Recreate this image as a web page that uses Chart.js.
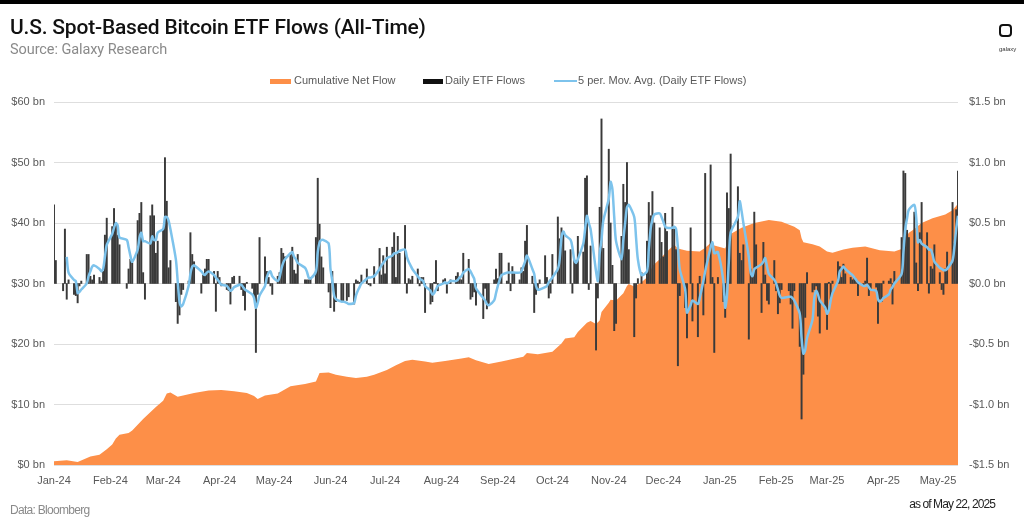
<!DOCTYPE html>
<html>
<head>
<meta charset="utf-8">
<script src="https://cdn.jsdelivr.net/npm/chart.js@4.4.1/dist/chart.umd.min.js"></script>
<style>
  html, body { margin:0; padding:0; background:#fff; overflow:hidden; }
  body { width:1024px; height:521px; position:relative; font-family:"Liberation Sans", Arial, sans-serif; }
  #topbar { position:absolute; left:0; top:0; width:1024px; height:4px; background:#000; }
  #c { position:absolute; left:0; top:0; }
  .txt { position:absolute; white-space:nowrap; line-height:1; }
  #title { left:10px; top:17px; font-family:Roboto, "Liberation Sans", sans-serif; font-weight:500; font-size:21px; color:#111; letter-spacing:-0.2px; }
  #subtitle { left:10px; top:43px; font-family:Roboto, "Liberation Sans", sans-serif; font-size:14.5px; color:#8a8a8a; letter-spacing:-0.08px; }
  .lg { top:75px; font-size:11px; color:#595959; }
  .sw { position:absolute; }
  #foot1 { left:10px; top:504px; font-size:12px; color:#8a8a8a; letter-spacing:-0.7px; }
  #foot2 { right:29px; top:498px; font-size:12px; color:#222; letter-spacing:-0.9px; }
  #logo { position:absolute; left:999px; top:24px; width:9px; height:9px; border:2.3px solid #111; border-radius:4px; }
  #logotxt { left:999px; top:46px; font-size:6px; color:#333; }
</style>
</head>
<body>
<div id="topbar"></div>
<canvas id="c" width="1024" height="521"></canvas>
<div class="txt" id="title">U.S. Spot-Based Bitcoin ETF Flows (All-Time)</div>
<div class="txt" id="subtitle">Source: Galaxy Research</div>
<div class="sw" style="left:270px;top:79px;width:21px;height:5px;background:#fd8f48;"></div>
<div class="txt lg" style="left:294px;">Cumulative Net Flow</div>
<div class="sw" style="left:423px;top:79px;width:20px;height:5px;background:#111;"></div>
<div class="txt lg" style="left:445px;">Daily ETF Flows</div>
<div class="sw" style="left:554px;top:80px;width:23px;height:2px;background:#7dc3ec;"></div>
<div class="txt lg" style="left:578px;">5 per. Mov. Avg. (Daily ETF Flows)</div>
<div id="logo"></div>
<div class="txt" id="logotxt">galaxy</div>
<div class="txt" id="foot1">Data: Bloomberg</div>
<div class="txt" id="foot2">as of May 22, 2025</div>
<script>
// ---------------- DATA ----------------
const monthLabels = ['Jan-24','Feb-24','Mar-24','Apr-24','May-24','Jun-24','Jul-24','Aug-24','Sep-24','Oct-24','Nov-24','Dec-24','Jan-25','Feb-25','Mar-25','Apr-25','May-25'];
const leftTickLabels = ['$0 bn','$10 bn','$20 bn','$30 bn','$40 bn','$50 bn','$60 bn'];
const rightTickLabels = ['-$1.5 bn','-$1.0 bn','-$0.5 bn','$0.0 bn','$0.5 bn','$1.0 bn','$1.5 bn'];

const firstDate = '2024-01-11';
const lastDate = '2025-05-22';
const marketHolidays = ['2024-01-15','2024-02-19','2024-03-29','2024-05-27','2024-06-19','2024-07-04','2024-09-02','2024-11-28','2024-12-25','2025-01-01','2025-01-09','2025-01-20','2025-02-17','2025-04-18'];

// Daily ETF flows ($ bn), one value per trading day of each month
const flowsJan24 = [0.65,0.19,-0.06,0.45,-0.13,0.03,-0.09,-0.10,-0.16,-0.02,0.02,0.24,0.24,0.06];
const flowsFeb24 = [0.03,0.07,0.05,0.02,0.10,0.40,0.54,0.47,0.62,0.49,0.40,0.32,-0.04,0.12,0.20,0.17,0.52,0.58,0.67,0.09];
const flowsMar24 = [-0.13,0.56,0.65,0.56,0.25,0.35,0.45,1.04,0.68,0.13,0.19,-0.15,-0.33,-0.26,-0.09,-0.05,0.02,0.42,0.24,0.18];
const flowsApr24 = [-0.08,0.07,0.12,0.20,0.20,0.10,-0.23,0.10,0.05,-0.02,-0.05,-0.06,-0.17,0.05,0.06,0.06,-0.05,-0.10,-0.22,0.01,-0.04,-0.12];
const flowsMay24 = [-0.57,-0.09,0.38,0.22,0.10,0.05,-0.02,-0.09,0.06,0.09,0.29,0.25,0.22,0.24,0.30,0.11,0.08,0.24,0.03,0.03,0.03,0.05];
const flowsJun24 = [0.38,0.87,0.49,0.22,0.13,-0.07,-0.20,0.10,-0.23,-0.15,-0.15,-0.15,-0.14,-0.11,-0.17,0.03,0.02,0.01,0.07];
const flowsJul24 = [0.12,-0.01,-0.02,0.14,0.29,0.07,0.23,0.08,0.30,0.30,0.42,0.05,0.39,0.25,0.48,-0.08,0.04,0.03,0.06,0.12,-0.02,0.05];
const flowsAug24 = [0.05,-0.24,-0.17,-0.15,0.01,0.19,-0.06,0.03,0.04,-0.08,0.01,0.03,0.06,0.09,0.04,0.03,0.25,0.20,-0.13,-0.11,-0.07,-0.18];
const flowsSep24 = [-0.29,-0.04,-0.21,-0.17,0.03,0.12,0.04,0.25,0.25,0.02,0.17,-0.06,0.14,0.09,0.03,0.13,0.10,0.35,0.48,0.06];
const flowsOct24 = [-0.24,-0.09,-0.05,0.03,0.23,0.05,-0.12,-0.08,0.24,0.55,0.37,0.46,0.43,0.27,0.28,-0.08,0.19,0.19,0.39,0.26,0.87,0.89,-0.05];
const flowsNov24 = [0.31,-0.55,-0.12,0.63,1.36,0.29,1.11,0.50,0.15,-0.39,-0.33,0.39,0.82,0.67,1.00,0.28,-0.44,-0.12,0.04,0.09];
const flowsDec24 = [0.35,0.67,0.56,0.76,0.50,0.46,0.34,0.22,0.58,0.43,0.63,0.45,0.28,-0.68,-0.10,-0.20,-0.45,0.46,-0.31,-0.44,0.06];
const flowsJan25 = [-0.26,0.91,0.98,0.05,-0.57,0.05,-0.15,-0.28,0.75,0.62,1.07,0.80,0.25,0.19,0.32,-0.46,0.12,0.06,0.59,0.32];
const flowsFeb25 = [-0.24,0.34,0.07,-0.14,-0.17,0.19,-0.06,-0.25,-0.16,-0.05,-0.06,-0.17,-0.37,-0.06,-0.52,-1.12,-0.75,-0.28,0.09];
const flowsMar25 = [-0.07,-0.05,-0.02,-0.27,-0.41,-0.21,-0.38,0.01,-0.13,0.02,0.18,0.14,0.05,0.16,0.08,0.05,0.03,0.05,0.03,-0.10,-0.02];
const flowsApr25 = [0.02,0.21,-0.10,-0.05,-0.03,-0.33,-0.13,-0.15,0.02,0.02,0.04,-0.17,0.10,0.38,0.93,0.91,0.44,0.38,0.59,0.17,-0.06];
const flowsMay25 = [0.42,0.67,0.42,-0.08,0.14,0.12,0.32,0.09,-0.05,-0.09,0.12,0.26,0.67,0.33,0.61,0.93];

// 5-period moving average ($ bn)
const maJan24 = [null,null,null,null,0.22,0.09,0.03,0.02,-0.08,-0.07,-0.05,0.00,0.06,0.10];
const maFeb24 = [0.14,0.15,0.12,0.10,0.12,0.22,0.32,0.41,0.46,0.50,0.48,0.38,0.36,0.30,0.23,0.18,0.28,0.38,0.42,0.35];
const maMar24 = [0.35,0.33,0.39,0.36,0.36,0.42,0.45,0.55,0.55,0.52,0.45,0.20,0.02,-0.15,-0.19,-0.17,-0.02,0.08,0.14,0.15];
const maApr24 = [0.10,0.08,0.07,0.09,0.10,0.07,0.05,0.03,0.01,-0.01,-0.02,-0.04,-0.06,-0.05,-0.03,-0.01,-0.01,-0.03,-0.05,-0.06,-0.09,-0.12];
const maMay24 = [-0.20,-0.16,-0.10,-0.02,0.05,0.09,0.10,0.06,0.02,0.05,0.12,0.17,0.20,0.25,0.26,0.22,0.20,0.17,0.13,0.10,0.05,0.04];
const maJun24 = [0.10,0.26,0.34,0.36,0.36,0.33,0.12,0.02,-0.10,-0.13,-0.15,-0.15,-0.16,-0.17,-0.16,-0.10,-0.06,-0.03,0.00];
const maJul24 = [0.04,0.05,0.05,0.06,0.12,0.15,0.17,0.19,0.21,0.23,0.25,0.25,0.26,0.27,0.28,0.22,0.18,0.15,0.12,0.06,0.04,0.03];
const maAug24 = [0.02,-0.02,-0.06,-0.09,-0.08,-0.05,-0.02,0.00,0.01,0.00,0.01,0.02,0.02,0.03,0.05,0.06,0.09,0.12,0.10,0.07,0.04,-0.04];
const maSep24 = [-0.12,-0.14,-0.17,-0.18,-0.14,-0.08,-0.02,0.03,0.07,0.09,0.09,0.09,0.09,0.09,0.09,0.10,0.14,0.18,0.23,0.12];
const maOct24 = [0.08,-0.02,-0.05,-0.05,-0.03,-0.02,0.01,0.03,0.05,0.12,0.20,0.38,0.43,0.40,0.36,0.30,0.20,0.17,0.20,0.33,0.45,0.56,0.50];
const maNov24 = [0.45,0.10,0.02,0.25,0.36,0.52,0.70,0.84,0.78,0.55,0.35,0.20,0.36,0.50,0.63,0.65,0.55,0.38,0.20,0.07];
const maDec24 = [0.10,0.28,0.45,0.53,0.57,0.58,0.55,0.51,0.47,0.46,0.46,0.47,0.45,0.30,0.12,-0.05,-0.24,-0.18,-0.14,-0.17,-0.12];
const maJan25 = [0.02,0.10,0.30,0.34,0.25,0.26,0.02,-0.20,-0.10,0.18,0.42,0.55,0.68,0.60,0.50,0.22,0.09,0.06,0.12,0.13];
const maFeb25 = [0.16,0.18,0.21,0.14,0.08,0.03,0.00,-0.05,-0.10,-0.12,-0.11,-0.11,-0.12,-0.14,-0.25,-0.45,-0.58,-0.55,-0.45];
const maMar25 = [-0.30,-0.12,-0.06,-0.09,-0.14,-0.20,-0.25,-0.22,-0.14,-0.08,0.02,0.10,0.12,0.14,0.12,0.08,0.07,0.05,0.03,0.01,-0.02];
const maApr25 = [-0.02,-0.01,-0.03,-0.05,-0.06,-0.13,-0.15,-0.14,-0.12,-0.09,-0.05,-0.03,0.00,0.08,0.26,0.45,0.54,0.61,0.65,0.55,0.34];
const maMay25 = [0.36,0.33,0.30,0.28,0.28,0.24,0.18,0.13,0.12,0.11,0.11,0.12,0.19,0.30,0.45,0.56];

// Cumulative net flow ($ bn), read from the orange area
const cumDates = ['2024-01-11','2024-01-18','2024-01-24','2024-01-31','2024-02-05','2024-02-09','2024-02-12','2024-02-14','2024-02-16','2024-02-21','2024-02-23','2024-02-29',
 '2024-03-07','2024-03-11','2024-03-13','2024-03-15','2024-03-19','2024-03-22','2024-03-28','2024-04-05','2024-04-12','2024-04-19','2024-04-26','2024-04-30',
 '2024-05-02','2024-05-06','2024-05-13','2024-05-20','2024-05-28','2024-06-03','2024-06-05','2024-06-10','2024-06-14','2024-06-20','2024-06-25','2024-07-01',
 '2024-07-05','2024-07-12','2024-07-17','2024-07-22','2024-07-26','2024-08-02','2024-08-06','2024-08-13','2024-08-22','2024-08-26','2024-08-30','2024-09-06',
 '2024-09-13','2024-09-25','2024-09-27','2024-10-03','2024-10-11','2024-10-16','2024-10-18','2024-10-23','2024-10-25','2024-10-30','2024-11-01','2024-11-04',
 '2024-11-06','2024-11-07','2024-11-11','2024-11-12','2024-11-15','2024-11-19','2024-11-21','2024-11-22','2024-11-25','2024-11-29','2024-12-03','2024-12-05',
 '2024-12-09','2024-12-12','2024-12-17','2024-12-19','2024-12-24','2024-12-31','2025-01-03','2025-01-06','2025-01-08','2025-01-14','2025-01-17','2025-01-23',
 '2025-01-30','2025-02-07','2025-02-14','2025-02-21','2025-02-24','2025-02-25','2025-02-26','2025-03-03','2025-03-07','2025-03-11','2025-03-14','2025-03-20',
 '2025-03-25','2025-04-01','2025-04-09','2025-04-17','2025-04-21','2025-04-22','2025-04-23','2025-04-25','2025-04-28','2025-05-02','2025-05-08','2025-05-15',
 '2025-05-19','2025-05-22'];
const cumValues = [0.6,0.8,0.5,1.4,1.7,2.6,3.4,4.4,5.0,5.3,5.7,7.6,
 9.6,10.6,11.8,12.0,11.3,11.5,11.9,12.3,12.4,12.2,11.9,11.4,
 10.9,11.5,11.8,13.0,13.4,13.8,15.2,15.3,14.9,14.6,14.4,14.6,
 14.9,15.7,16.5,17.2,17.4,17.1,16.9,17.2,17.6,17.8,17.3,16.7,
 17.1,17.9,18.5,18.3,18.7,20.1,20.9,21.1,22.0,23.5,23.8,23.3,
 23.9,25.3,26.8,27.3,27.2,28.4,29.6,29.9,29.5,30.2,31.3,32.9,
 34.0,35.0,36.4,35.8,35.4,35.3,35.9,36.7,36.3,35.8,38.2,39.2,
 40.0,40.5,40.2,39.4,38.8,37.5,36.8,36.5,36.1,35.3,35.1,35.6,
 35.9,36.1,35.5,35.3,35.7,36.6,37.5,38.4,39.0,40.0,40.8,41.4,
 42.1,43.2];

const flowMonths = [flowsJan24,flowsFeb24,flowsMar24,flowsApr24,flowsMay24,flowsJun24,flowsJul24,flowsAug24,flowsSep24,flowsOct24,flowsNov24,flowsDec24,flowsJan25,flowsFeb25,flowsMar25,flowsApr25,flowsMay25];
const maMonths = [maJan24,maFeb24,maMar24,maApr24,maMay24,maJun24,maJul24,maAug24,maSep24,maOct24,maNov24,maDec24,maJan25,maFeb25,maMar25,maApr25,maMay25];

// ---------------- BUILD ----------------
const DAY = 864e5;
const utc = iso => Date.UTC(+iso.slice(0,4), +iso.slice(5,7)-1, +iso.slice(8,10));
const t0 = utc(firstDate);
const dayOffset = iso => Math.round((utc(iso) - t0) / DAY);

const tradingDays = [];
for (let t = t0; t <= utc(lastDate); t += DAY) {
  const d = new Date(t), wd = d.getUTCDay();
  if (wd === 0 || wd === 6) continue;
  const iso = d.toISOString().slice(0,10);
  if (marketHolidays.includes(iso)) continue;
  tradingDays.push(iso);
}

const barPts = [], maPts = [], counters = {};
tradingDays.forEach(iso => {
  const mi = (+iso.slice(0,4) - 2024) * 12 + (+iso.slice(5,7) - 1);
  const k = counters[mi] = (counters[mi] === undefined ? 0 : counters[mi] + 1);
  const x = dayOffset(iso);
  const v = flowMonths[mi][k], a = maMonths[mi][k];
  barPts.push({x, y: v === undefined ? null : v});
  maPts.push({x, y: (a === undefined) ? null : a});
});
const cumPts = cumDates.map((d,i) => ({x: dayOffset(d), y: cumValues[i]}));
const monthTickDays = monthLabels.map((_, i) => Math.round((Date.UTC(2024, i, 11) - t0) / DAY));
const xMax = dayOffset(lastDate);

const tickFont = {family: '"Liberation Sans", Arial, sans-serif', size: 11};
const tickColor = '#595959';

new Chart(document.getElementById('c'), {
  type: 'bar',
  data: {
    datasets: [
      { type:'line', label:'5 per. Mov. Avg. (Daily ETF Flows)', data: maPts, yAxisID:'y1',
        borderColor:'#7dc3ec', borderWidth:2.5, pointRadius:0, tension:0.25, fill:false, order:0 },
      { type:'bar', label:'Daily ETF Flows', data: barPts, yAxisID:'y1',
        backgroundColor:'#3a3a3a', barThickness:1.3, order:1 },
      { type:'line', label:'Cumulative Net Flow', data: cumPts, yAxisID:'y',
        backgroundColor:'#fd8f48', borderWidth:0, pointRadius:0, fill:'origin', tension:0, order:2 }
    ]
  },
  options: {
    responsive:false, animation:false, events:[],
    layout:{ padding:{ top:102, left:0, right:0, bottom:0 } },
    plugins:{ legend:{ display:false }, tooltip:{ enabled:false } },
    scales:{
      x:{ type:'linear', min:0, max:xMax, offset:false,
          grid:{ display:false }, border:{ display:false },
          afterBuildTicks: s => { s.ticks = monthTickDays.map(v => ({value:v})); },
          afterFit: s => { s.height = 56; },
          ticks:{ autoSkip:false, maxRotation:0, minRotation:0, padding:1, color:tickColor, font:tickFont,
                  callback:(v,i) => monthLabels[i] } },
      y:{ position:'left', min:0, max:60,
          grid:{ color:'#dedede', lineWidth:1, drawTicks:false }, border:{ display:false },
          afterFit: s => { s.width = 54; },
          ticks:{ stepSize:10, padding:9, color:tickColor, font:tickFont, callback:(v,i) => leftTickLabels[i] } },
      y1:{ position:'right', min:-1.5, max:1.5,
          grid:{ display:false }, border:{ display:false },
          afterFit: s => { s.width = 66; },
          ticks:{ stepSize:0.5, padding:3, color:tickColor, font:tickFont, callback:(v,i) => rightTickLabels[i] } }
    }
  }
});
</script>
</body>
</html>
